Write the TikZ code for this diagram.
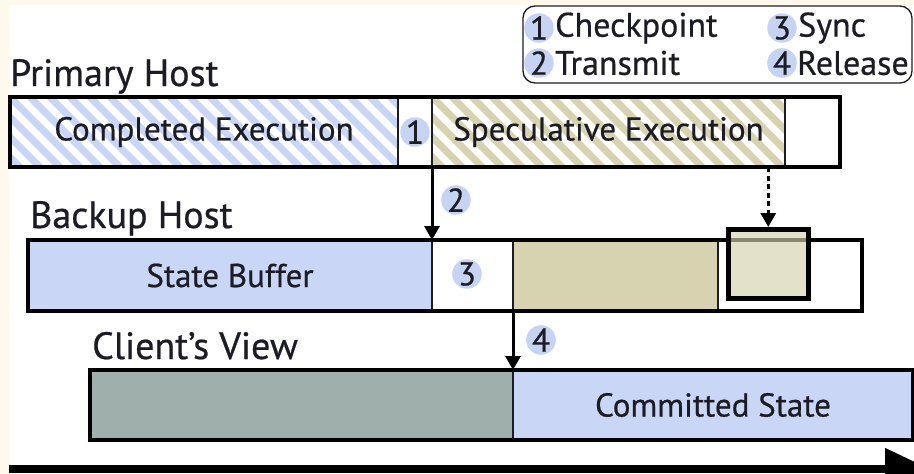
\documentclass[tikz,border=0pt]{standalone}
\usepackage{fontspec}
\setmainfont[FakeBold=0.6]{PT Sans}
\usetikzlibrary{arrows.meta}
\definecolor{cream}{HTML}{FFF8EC}
\definecolor{bblue}{HTML}{C9D6F6}
\definecolor{tanc}{HTML}{D7D2B0}
\definecolor{sage}{HTML}{9FB0AC}
\definecolor{ink}{HTML}{1C1C24}
\definecolor{badgeblue}{HTML}{C6D3F2}
\newcommand\barfont{\fontsize{33}{38}\selectfont}
\newcommand\labfont{\fontsize{38}{43}\selectfont}
\newcommand\legfont{\fontsize{34}{39}\selectfont}
\begin{document}
\begin{tikzpicture}[x=1pt,y=-1pt,
  seg/.style={draw=ink, line width=1.2pt, fill=white, anchor=north west, inner sep=0pt, outer sep=0pt, text=ink, font=\barfont},
  barframe/.style={draw=black, line width=4.5pt, anchor=north west, inner sep=0pt, outer sep=0pt},
  badge/.style={circle, fill=badgeblue, inner sep=0pt, minimum size=28pt, text=ink, font=\barfont},
  hlabel/.style={anchor=base west, text=ink, font=\labfont, inner sep=0pt},
  legtext/.style={anchor=west, text=ink, font=\legfont, inner sep=0pt},
  hatch/.style={path picture={\foreach \k in {-5,...,21}{\draw[line width=7.07pt,#1] ([xshift=\k*20pt]path picture bounding box.north west) -- ++(80pt,-80pt);}}},
  arr/.style={draw=black, line width=3pt, -{Triangle[width=15pt,length=14pt]}},
]
\useasboundingbox (0,0) rectangle (914,474);
\fill[cream] (0,0) rectangle (914,474);
\fill[white] (9,5) rectangle (914,474);

% Legend
\draw[line width=1.3pt, draw=ink, rounded corners=12pt] (523,6) rectangle (912,83);
\node[badge, minimum size=27pt] (l1) at (539,28) {1};
\node[legtext] (l1t) at (555,28) {Checkpoint};
\node[badge, minimum size=27pt] (l3) at (782,28) {3};
\node[legtext] (l3t) at (798,28) {Sync};
\node[badge, minimum size=27pt] (l2) at (539,63) {2};
\node[legtext] (l2t) at (555,63) {Transmit};
\node[badge, minimum size=27pt] (l4) at (782,63) {4};
\node[legtext] (l4t) at (797,63) {Release};

% Primary host
\node[hlabel] (plab) at (10,86) {Primary Host};
\node[seg, hatch=bblue, minimum width=388pt, minimum height=70pt] (compl) at (10,97) {Completed Execution};
\node[seg, minimum width=34pt, minimum height=70pt] (ck) at (398,97) {};
\node[seg, hatch=tanc, minimum width=353pt, minimum height=70pt] (spec) at (432,97) {Speculative Execution};
\node[seg, minimum width=55pt, minimum height=70pt] (prest) at (785,97) {};
\node[barframe, minimum width=830pt, minimum height=70pt] (prim) at (10,97) {};
\node[badge] (b1) at (ck.center) {1};

% Backup host
\node[hlabel] (blab) at (30,228) {Backup Host};
\node[seg, fill=bblue, minimum width=404pt, minimum height=71pt] (buf) at (28,240) {State Buffer};
\node[seg, minimum width=81pt, minimum height=71pt] (sync) at (432,240) {};
\node[seg, fill=tanc, minimum width=205pt, minimum height=71pt] (btan) at (513,240) {};
\node[seg, minimum width=144pt, minimum height=71pt] (brest) at (718,240) {};
\node[barframe, minimum width=834pt, minimum height=71pt] (back) at (28,240) {};
\node[badge] (b3) at (467,274) {3};
\node[draw=black, line width=4.5pt, fill=tanc, fill opacity=0.65, anchor=north west, inner sep=0pt, minimum width=80pt, minimum height=69pt] (ovl) at (726,227) {};

% Client view
\node[hlabel] (clab) at (92,359) {Client’s View};
\node[seg, fill=sage, minimum width=423pt, minimum height=70pt] (cold) at (90,370) {};
\node[seg, fill=bblue, minimum width=400pt, minimum height=70pt] (cmt) at (513,370) {Committed State};
\node[barframe, minimum width=823pt, minimum height=70pt] (client) at (90,370) {};

% Arrows
\coordinate (dstart) at (ovl.north |- spec.south);
\draw[arr] (ck.south east) -- (buf.north east);
\node[badge] (b2) at (456,200) {2};
\draw[arr, dash pattern=on 5pt off 3.5pt] (dstart) -- (ovl.north);
\draw[arr] (btan.south west) -- (cmt.north west);
\node[badge] (b4) at (541,340) {4};

% Timeline
\coordinate (t0) at (9,469);
\coordinate (t1) at (930,469);
\draw[line width=8pt, -{Triangle[width=40pt,length=45pt]}] (t0) -- (t1);
\end{tikzpicture}
\end{document}
